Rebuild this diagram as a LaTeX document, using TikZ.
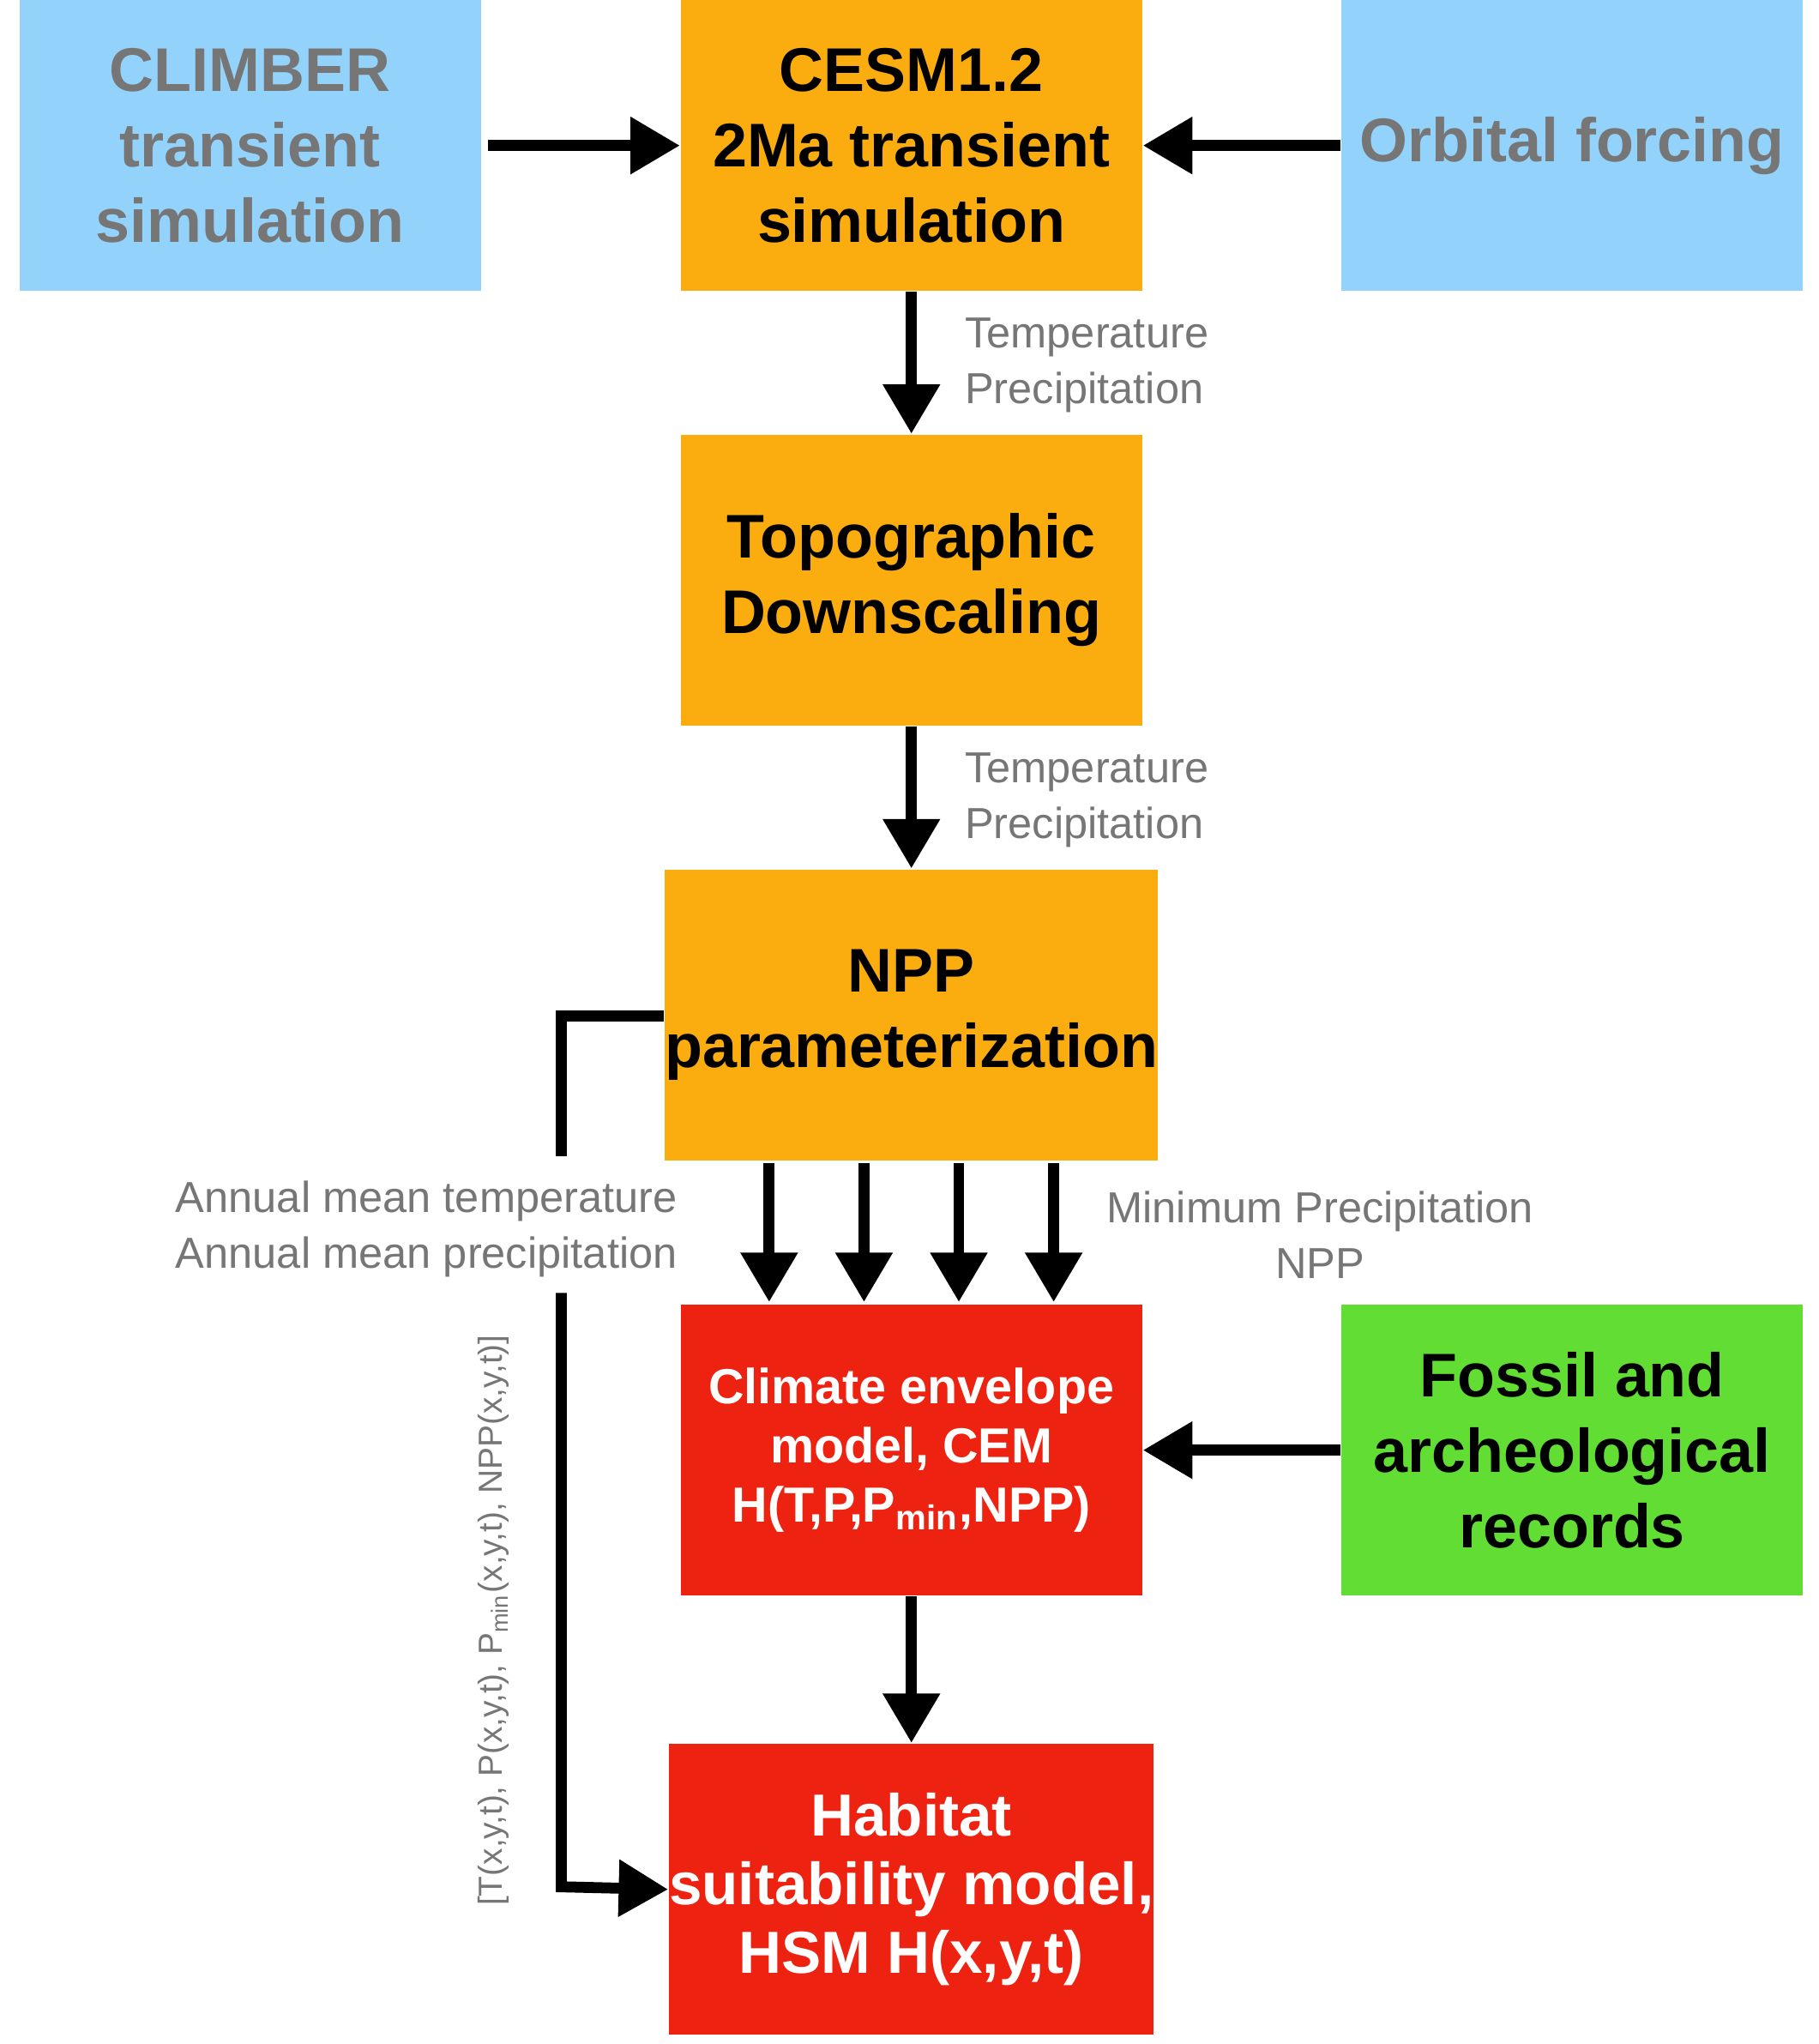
\documentclass[tikz,border=0pt]{standalone}
\usepackage{fontspec}
\setmainfont{Liberation Sans}
\usetikzlibrary{arrows.meta}
\definecolor{lblue}{HTML}{92D2FB}
\definecolor{orng}{HTML}{FBAD10}
\definecolor{rd}{HTML}{EE2211}
\definecolor{grn}{HTML}{62DD33}
\definecolor{gtxt}{HTML}{767676}
\begin{document}
\begin{tikzpicture}[
 box/.style={minimum width=3.55cm,minimum height=2.24cm,inner sep=0pt,align=center,font=\bfseries\fontsize{13.5}{16.5}\selectfont},
 lab/.style={text=gtxt,font=\fontsize{9.5}{12.2}\selectfont,inner sep=0pt},
 arr/.style={line width=2.4pt,-{Triangle[length=0.38cm,width=0.42cm]}},
 ln/.style={line width=2.4pt}]
\useasboundingbox (0,0) rectangle (14,-15.73);
\node[box,fill=lblue,text=gtxt] (climber) at (1.925,-1.12) {CLIMBER\\transient\\simulation};
\node[box,fill=orng] (cesm) at (7.015,-1.12) {CESM1.2\\2Ma transient\\simulation};
\node[box,fill=lblue,text=gtxt] (orb) at (12.1,-1.12) {Orbital forcing};
\node[box,fill=orng] (topo) at (7.015,-4.465) {Topographic\\Downscaling};
\node[box,fill=orng] (npp) at (7.015,-7.81) {NPP\\parameterization};
\node[box,fill=rd,text=white,font=\bfseries\fontsize{10.8}{13}\selectfont] (cem) at (7.015,-11.16) {Climate envelope\\model, CEM\\H(T,P,P\textsubscript{min},NPP)};
\node[box,fill=grn] (fos) at (12.1,-11.16) {Fossil and\\archeological\\records};
\node[box,fill=rd,text=white,font=\bfseries\fontsize{13}{15}\selectfont] (hsm) at (7.015,-14.54) {Habitat\\suitability model,\\HSM H(x,y,t)};
\draw[arr] (climber.east)++(0.05,0) -- (cesm.west);
\draw[arr] (orb.west) -- (cesm.east);
\draw[arr] (fos.west) -- (cem.east);
\draw[arr] (cesm) -- (topo);
\draw[arr] (topo) -- (npp);
\draw[arr] (cem) -- (hsm);
\foreach \x in {5.92,6.65,7.38,8.11}
  \draw[arr] (\x,-8.95) -- (\x,-10.02);
\node[lab,align=left,anchor=west] (l1) at (7.42,-2.81) {Temperature\\Precipitation};
\node[lab,align=left,anchor=west] (l2) at (7.42,-6.16) {Temperature\\Precipitation};
\node[lab,align=right,anchor=east] (l3) at (5.22,-9.46) {Annual mean temperature\\Annual mean precipitation};
\node[lab,align=center] (l4) at (10.16,-9.5) {Minimum Precipitation\\NPP};
\coordinate (c1) at (4.32,-7.82);
\coordinate (c2) at (4.32,-8.9);
\coordinate (c3) at (4.32,-9.95);
\coordinate (c4) at (4.32,-14.52);
\draw[ln] (npp.west|-c1) -- (c1) -- (c2);
\draw[arr] (c3) -- (c4) -- (hsm.west);
\node[lab,rotate=90,font=\fontsize{7.3}{9}\selectfont] (rot) at (3.8,-12.47) {[T(x,y,t), P(x,y,t), P\textsubscript{min}(x,y,t), NPP(x,y,t)]};
\end{tikzpicture}
\end{document}
